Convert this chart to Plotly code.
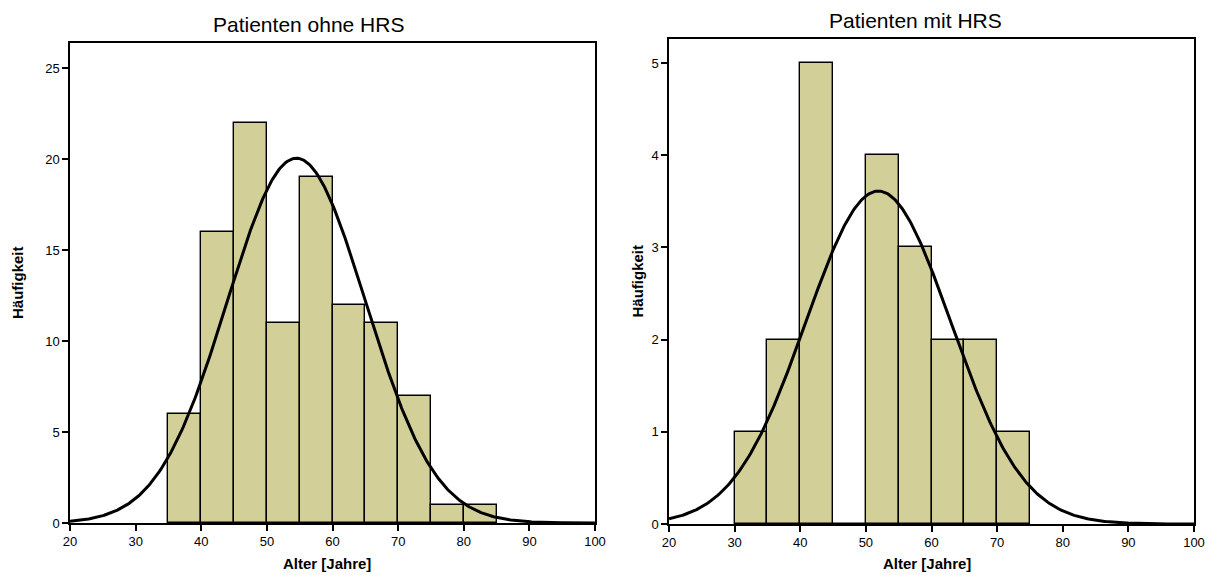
import numpy as np
import plotly.graph_objects as go

W, H = 1213, 575

# ---- data ----
bin_left_ohne = [35, 40, 45, 50, 55, 60, 65, 70, 75, 80]
counts_ohne = [6, 16, 22, 11, 19, 12, 11, 7, 1, 1]
mean_ohne, sd_ohne = 54.5, 10.55

bin_left_mit = [30, 35, 40, 45, 50, 55, 60, 65, 70]
counts_mit = [1, 2, 5, 0, 4, 3, 2, 2, 1]
mean_mit, sd_mit = 51.9, 11.05

bin_width = 5
x_ticks = [20, 30, 40, 50, 60, 70, 80, 90, 100]
y_ticks_ohne = [0, 5, 10, 15, 20, 25]
y_ticks_mit = [0, 1, 2, 3, 4, 5]

titles = ["Patienten ohne HRS", "Patienten mit HRS"]
x_title = "Alter [Jahre]"
y_title = "Häufigkeit"

BAR = "#D3CF98"
FONT = "Liberation Sans, Arial"

def px_x(p):
    return p / W

def px_y(p):
    return 1 - p / H

fig = go.Figure()

panels = [
    (bin_left_ohne, counts_ohne, mean_ohne, sd_ohne, y_ticks_ohne, 26.37, (70, 595), (43, 523), "x", "y",
     (308, 25), 327, 17),
    (bin_left_mit, counts_mit, mean_mit, sd_mit, y_ticks_mit, 5.26, (669, 1194), (39, 524), "x2", "y2",
     (915, 20), 927, 637),
]

for i, (bl, cnt, mu, sd, yt, ymax, (xl, xr), (yt_px, yb_px), xa, ya, tpos, xtx, ytx) in enumerate(panels):
    n = sum(cnt)
    centers = [b + bin_width / 2 for b in bl]
    fig.add_trace(go.Bar(
        x=centers, y=cnt, width=bin_width,
        marker=dict(color=BAR, line=dict(color="black", width=1.4)),
        xaxis=xa, yaxis=ya, showlegend=False, hoverinfo="x+y",
    ))
    xs = np.linspace(20, 100, 400)
    ys = n * bin_width / (sd * np.sqrt(2 * np.pi)) * np.exp(-0.5 * ((xs - mu) / sd) ** 2)
    fig.add_trace(go.Scatter(
        x=xs, y=ys, mode="lines", line=dict(color="black", width=3),
        xaxis=xa, yaxis=ya, showlegend=False, hoverinfo="skip",
    ))
    axcommon = dict(showline=True, linecolor="black", linewidth=1.5, mirror=True,
                    ticks="outside", ticklen=6, tickwidth=1.5, tickcolor="black",
                    showgrid=False, zeroline=False, automargin=False,
                    tickfont=dict(family=FONT, size=13, color="black"))
    key_x = "xaxis" if xa == "x" else "xaxis2"
    key_y = "yaxis" if ya == "y" else "yaxis2"
    fig.update_layout(**{
        key_x: dict(domain=[px_x(xl), px_x(xr)], range=[20, 100], tickvals=x_ticks,
                    anchor=ya, **axcommon),
        key_y: dict(domain=[px_y(yb_px), px_y(yt_px)], range=[0, ymax], tickvals=yt,
                    anchor=xa, **axcommon),
    })
    fig.add_annotation(text=titles[i], x=px_x(tpos[0]), y=px_y(tpos[1]),
                       xref="paper", yref="paper", showarrow=False,
                       xanchor="center", yanchor="middle",
                       font=dict(family=FONT, size=21, color="black"))
    fig.add_annotation(text="<b>" + x_title + "</b>", x=px_x(xtx), y=px_y(563),
                       xref="paper", yref="paper", showarrow=False,
                       xanchor="center", yanchor="middle",
                       font=dict(family=FONT, size=15, color="black"))
    fig.add_annotation(text="<b>" + y_title + "</b>", x=px_x(ytx),
                       y=px_y((yt_px + yb_px) / 2), textangle=-90,
                       xref="paper", yref="paper", showarrow=False,
                       xanchor="center", yanchor="middle",
                       font=dict(family=FONT, size=15, color="black"))

fig.update_layout(width=W, height=H, margin=dict(l=0, r=0, t=0, b=0, pad=0, autoexpand=False),
                  plot_bgcolor="white", paper_bgcolor="white", bargap=0)

fig.write_html("out.html", config={"displayModeBar": False},
               post_script="document.body.style.margin='0';")
